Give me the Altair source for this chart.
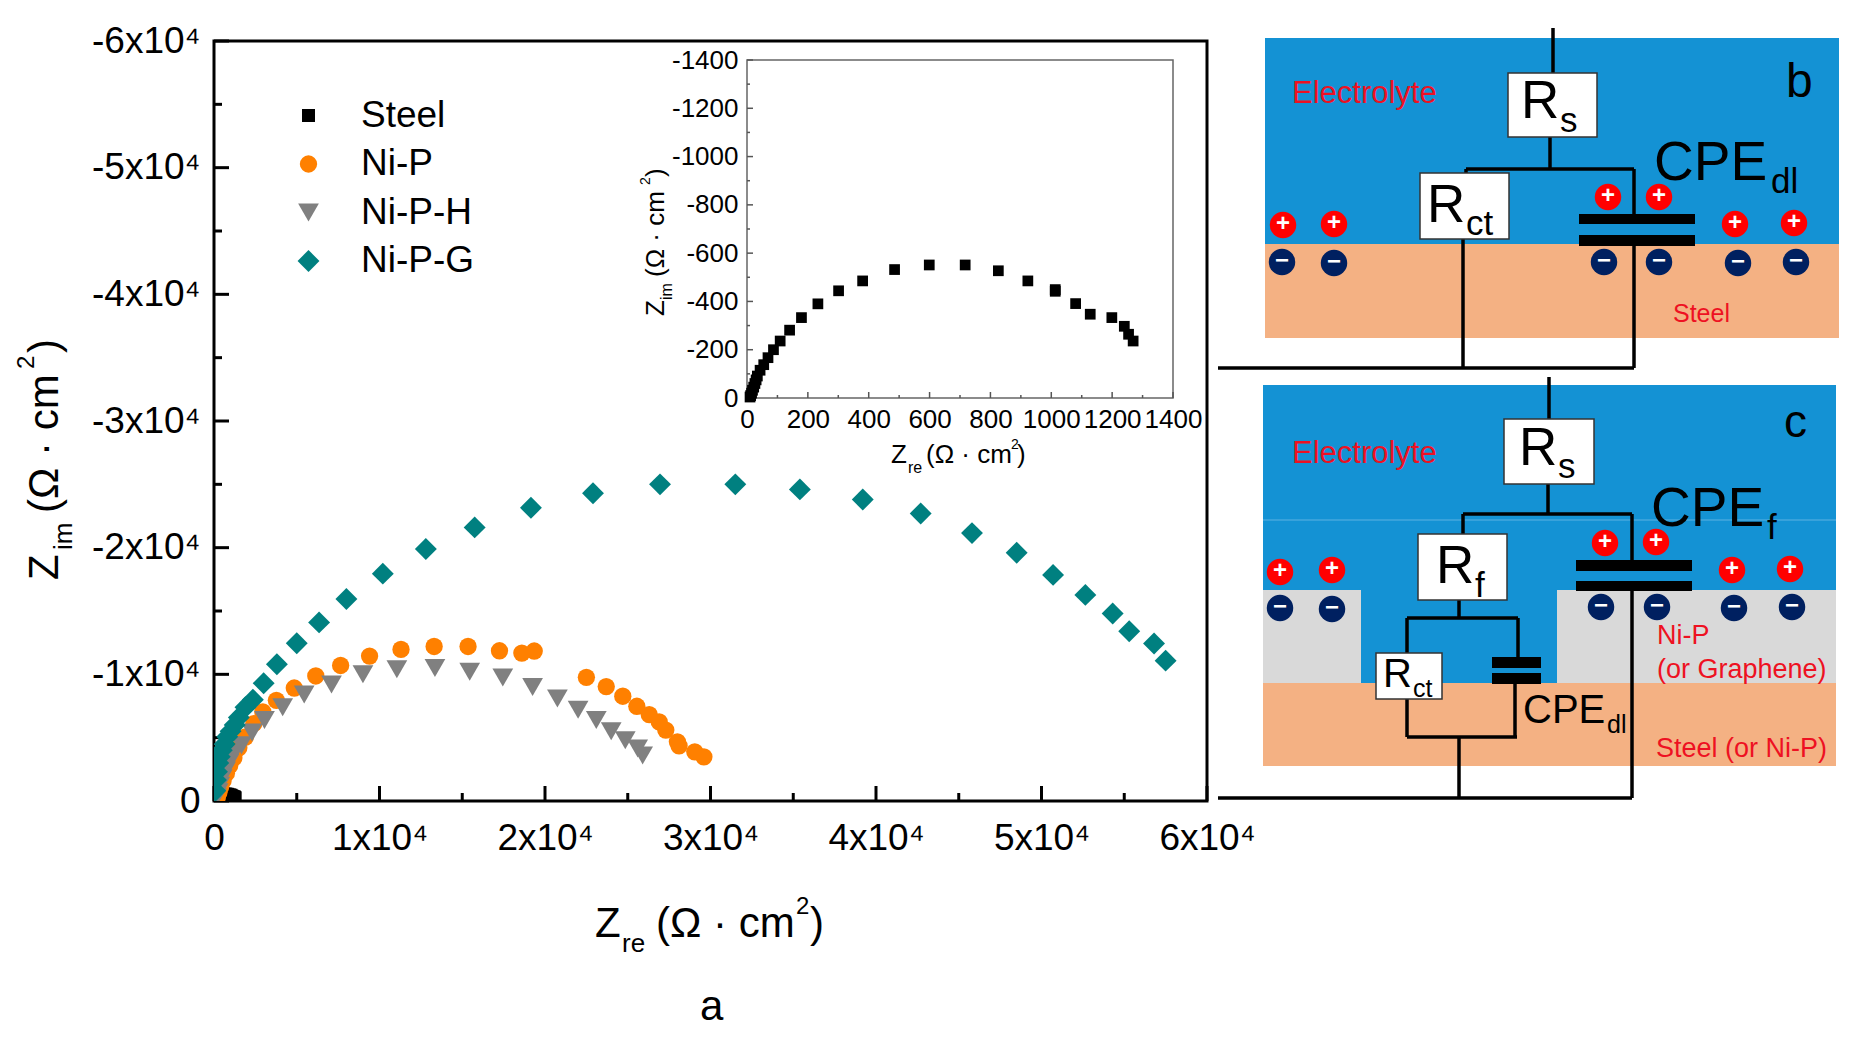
import pandas as pd
import altair as alt

# -- data, in kilo-ohm.cm2 for the large plot
steel_x = [1269, 1254, 1240, 1199, 1128, 1080, 1013, 1013, 923, 826, 717, 599, 485, 380, 301, 233,
           179, 140, 109, 87, 69, 55, 43, 34, 30, 26, 22, 18, 15, 12, 10]
steel_y = [-236, -264, -297, -333, -347, -391, -442, -449, -485, -527, -551, -551, -532, -485, -444, -390,
           -333, -281, -236, -200, -167, -138, -115, -91, -75, -60, -45, -32, -20, -10, -4]

nip_x = [29.6, 29.05, 28.1, 28.0, 27.3, 26.9, 26.3, 25.55, 24.7, 23.7, 22.5, 19.35, 18.6, 17.25, 15.35,
         13.3, 11.3, 9.4, 7.65, 6.15, 4.85, 3.77, 2.95, 2.4, 1.9, 1.5, 1.2, 0.95, 0.75, 0.55, 0.4, 0.3, 0.2]
nip_y = [-3.49, -3.88, -4.36, -4.67, -5.6, -6.25, -6.82, -7.48, -8.27, -9.03, -9.76, -11.84, -11.68, -11.86, -12.2,
         -12.2, -11.97, -11.44, -10.7, -9.87, -8.92, -7.95, -7.03, -6.1, -5.05, -4.2, -3.4, -2.8, -2.2, -1.6, -1.1, -0.7, -0.3]

niph_x = [25.9, 25.6, 24.85, 24.0, 23.1, 22.0, 20.75, 19.25, 17.45, 15.45, 13.35, 11.05, 9.0, 7.1, 5.45,
          4.15, 3.05, 2.3, 1.66, 1.2, 0.9, 0.7, 0.5, 0.35, 0.25, 0.15]
niph_y = [-3.6, -4.15, -4.8, -5.5, -6.4, -7.2, -8.1, -9.0, -9.75, -10.2, -10.5, -10.4, -10.0, -9.2, -8.4,
          -7.4, -6.4, -5.4, -4.4, -3.75, -3.0, -2.4, -1.8, -1.2, -0.7, -0.3]

nipg_x = [57.5, 56.8, 55.3, 54.3, 52.65, 50.7, 48.5, 45.8, 42.7, 39.2, 35.4, 31.5, 26.95, 22.9, 19.15, 15.75,
          12.8, 10.2, 8.0, 6.35, 5.0, 3.8, 3.0, 2.35, 1.9, 1.5, 1.25, 1.0, 0.8, 0.65, 0.47, 0.35, 0.26, 0.18, 0.12, 0.08]
nipg_y = [-11.08, -12.44, -13.4, -14.8, -16.27, -17.85, -19.6, -21.15, -22.7, -23.8, -24.6, -25.0, -25.0, -24.3, -23.15, -21.6,
          -19.9, -17.95, -15.95, -14.1, -12.45, -10.8, -9.3, -8.0, -7.4, -6.6, -6.0, -5.5, -5.07, -4.5, -4.0, -3.5, -3.0, -2.3, -1.65, -0.8]

series_names = ['Steel', 'Ni-P', 'Ni-P-H', 'Ni-P-G']
series_colors = ['#000000', '#FF8000', '#808080', '#008080']
series_shapes = ['square', 'circle', 'triangle-down', 'diamond']
series_sizes = [170, 300, 430, 480]

main_major = [0, 10000, 20000, 30000, 40000, 50000, 60000]
main_minor = [5000, 15000, 25000, 35000, 45000, 55000]
inset_major = [0, 200, 400, 600, 800, 1000, 1200, 1400]
inset_minor = [100, 300, 500, 700, 900, 1100, 1300]

# -- schematic, in picture units
blue_boxes = [[1265, 38, 1839, 244], [1263, 385, 1836, 683]]
peach_boxes = [[1265, 244, 1839, 338], [1263, 683, 1836, 766]]
grey_boxes = [[1263, 590, 1361, 683], [1557, 590, 1836, 683]]
white_boxes = [[1508, 73, 1597, 137], [1420, 173, 1509, 239], [1504, 419, 1594, 484],
               [1418, 534, 1507, 600], [1376, 653, 1442, 699]]
plates = [[1579, 214, 1695, 224], [1579, 235, 1695, 246], [1576, 560, 1692, 571], [1576, 581, 1692, 591],
          [1492, 657, 1541, 668], [1492, 673, 1541, 684]]
wires = [[1553, 28, 1553, 73], [1550, 137, 1550, 169], [1466, 169, 1634, 169], [1466, 169, 1466, 173],
         [1463, 239, 1463, 368], [1218, 368, 1634, 368], [1634, 169, 1634, 214], [1634, 246, 1634, 368],
         [1549, 377, 1549, 419], [1548, 484, 1548, 514], [1463, 514, 1632, 514], [1463, 514, 1463, 534],
         [1459, 600, 1459, 618], [1407, 618, 1518, 618], [1407, 618, 1407, 653], [1407, 699, 1407, 737],
         [1407, 737, 1517, 737], [1518, 618, 1518, 657], [1515, 684, 1515, 737], [1459, 737, 1459, 798],
         [1218, 798, 1632, 798], [1632, 514, 1632, 560], [1632, 591, 1632, 798]]
seam = [[1263, 520, 1836, 520]]
plus_x = [1283, 1334, 1608, 1659, 1735, 1794, 1280, 1332, 1605, 1656, 1732, 1790]
plus_y = [225, 224, 197, 197, 224, 223, 572, 570, 543, 542, 570, 569]
minus_x = [1282, 1334, 1604, 1659, 1738, 1796, 1280, 1332, 1601, 1657, 1734, 1792]
minus_y = [262, 263, 262, 262, 263, 262, 608, 609, 607, 607, 608, 607]

# text, left, baseline, size
black_text = [
    ['Z', 595, 937, 42], ['re', 622, 952, 26], ['(Ω · cm', 656, 937, 42], ['2', 796, 914, 24], [')', 810, 937, 42],
    ['a', 700, 1020, 42],
    ['Z', 891, 463, 26], ['re', 908, 473, 16], ['(Ω · cm', 926, 463, 26], ['2', 1011, 449, 14], [')', 1017, 463, 26],
    ['R', 1521, 118, 53], ['s', 1560, 132, 35], ['R', 1427, 222, 53], ['ct', 1466, 235, 35],
    ['CPE', 1654, 180, 55], ['dl', 1771, 193, 35], ['b', 1786, 97, 48],
    ['R', 1519, 465, 53], ['s', 1558, 478, 35], ['CPE', 1651, 526, 55], ['f', 1767, 539, 35],
    ['R', 1436, 583, 53], ['f', 1475, 597, 35], ['R', 1383, 687, 40], ['ct', 1413, 697, 25],
    ['CPE', 1523, 723, 40], ['dl', 1607, 733, 25], ['c', 1784, 437, 46],
]
red_text = [
    ['Electrolyte', 1292, 103, 31], ['Steel', 1673, 322, 25], ['Electrolyte', 1292, 463, 31],
    ['Ni-P', 1657, 644, 27], ['(or Graphene)', 1657, 678, 27], ['Steel (or Ni-P)', 1656, 757, 27],
]
rotated_text = [
    ['Z', 58, 580, 42], ['im', 72, 550, 26], ['(Ω · cm', 58, 513, 42], ['2', 34, 369, 24], [')', 58, 353, 42],
    ['Z', 664, 316, 26], ['im', 672, 300, 16], ['(Ω · cm', 664, 277, 26], ['2', 650, 185, 14], [')', 664, 177, 26],
]

W, H = 993, 760
INSET_LEFT, INSET_RIGHT, INSET_TOP, INSET_BOTTOM = 533, 959, 19, 357
FONT = 'Liberation Sans'

rows = []
for name, xs, ys, k in zip(series_names, [steel_x, nip_x, niph_x, nipg_x], [steel_y, nip_y, niph_y, nipg_y], [1, 1000, 1000, 1000]):
    for a, b in zip(xs, ys):
        rows.append({'series': name, 'x': a * k, 'y': b * k})
main_df = pd.DataFrame(rows)
inset_df = pd.DataFrame({'x': steel_x, 'y': steel_y})

main_x = alt.Scale(domain=[0, 60000], range=[0, W])
main_y = alt.Scale(domain=[0, -60000], range=[H, 0])
inset_x = alt.Scale(domain=[0, 1400], range=[INSET_LEFT, INSET_RIGHT])
inset_y = alt.Scale(domain=[0, -1400], range=[INSET_BOTTOM, INSET_TOP])
pic_x = alt.Scale(domain=[0, 1859], range=[-214, 1645])
pic_y = alt.Scale(domain=[0, 1042], range=[-41, 1001])


def x_ticks(values, scale, base, length, color, width):
    return alt.Chart(pd.DataFrame({'v': values})).mark_rule(color=color, strokeWidth=width).encode(
        x=alt.X('v:Q', scale=scale, axis=None),
        y=alt.value(base), y2=alt.value(base - length))


def y_ticks(values, scale, base, length, color, width):
    return alt.Chart(pd.DataFrame({'v': values})).mark_rule(color=color, strokeWidth=width).encode(
        y=alt.Y('v:Q', scale=scale, axis=None),
        x=alt.value(base), x2=alt.value(base + length))


def boxes(data, **style):
    df = pd.DataFrame(data, columns=['x', 'y', 'x2', 'y2'])
    return alt.Chart(df).mark_rect(**style).encode(
        x=alt.X('x:Q', scale=pic_x, axis=None), x2='x2:Q',
        y=alt.Y('y:Q', scale=pic_y, axis=None), y2='y2:Q')


def lines(data, **style):
    df = pd.DataFrame(data, columns=['x', 'y', 'x2', 'y2'])
    return alt.Chart(df).mark_rule(**style).encode(
        x=alt.X('x:Q', scale=pic_x, axis=None), x2='x2:Q',
        y=alt.Y('y:Q', scale=pic_y, axis=None), y2='y2:Q')


def labels(data, color, angle=0):
    df = pd.DataFrame(data, columns=['t', 'x', 'y', 's'])
    return alt.Chart(df).mark_text(font=FONT, color=color, align='left', baseline='alphabetic', angle=angle).encode(
        x=alt.X('x:Q', scale=pic_x, axis=None),
        y=alt.Y('y:Q', scale=pic_y, axis=None),
        text='t:N',
        size=alt.Size('s:Q', scale=None))


main_points = alt.Chart(main_df).mark_point(filled=True, opacity=1, clip=True).encode(
    x=alt.X('x:Q', scale=main_x, title=None, axis=alt.Axis(
        orient='bottom', values=main_major, grid=False, domain=False, ticks=False, labelFont=FONT,
        labelFontSize=37, labelColor='black', labelPadding=19, labelFlush=False, labelOverlap=False,
        labelExpr="datum.value == 0 ? '0' : (datum.value / 10000) + 'x10⁴'")),
    y=alt.Y('y:Q', scale=main_y, title=None, axis=alt.Axis(
        orient='left', values=[-v for v in main_major], grid=False, domain=False, ticks=False, labelFont=FONT,
        labelFontSize=37, labelColor='black', labelPadding=14, labelFlush=False, labelOverlap=False,
        labelExpr="datum.value == 0 ? '0' : (datum.value / 10000) + 'x10⁴'")),
    color=alt.Color('series:N', scale=alt.Scale(domain=series_names, range=series_colors), legend=alt.Legend(
        orient='none', legendX=76, legendY=56, title=None, labelFont=FONT, labelFontSize=37, labelColor='black',
        labelOffset=34, symbolOpacity=1, rowPadding=10.5, symbolStrokeWidth=0)),
    shape=alt.Shape('series:N', scale=alt.Scale(domain=series_names, range=series_shapes)),
    size=alt.Size('series:N', scale=alt.Scale(type='ordinal', domain=series_names, range=series_sizes), legend=None),
)

inset_points = alt.Chart(inset_df).mark_point(filled=True, opacity=1, shape='square', color='black', size=115).encode(
    x=alt.X('x:Q', scale=inset_x, title=None, axis=alt.Axis(
        orient='bottom', offset=INSET_BOTTOM - H, values=inset_major, grid=False, domain=False, ticks=False,
        labelExpr="datum.value + ''", labelFlush=False,
        labelFont=FONT, labelFontSize=26, labelColor='black', labelPadding=8, labelOverlap=False)),
    y=alt.Y('y:Q', scale=inset_y, title=None, axis=alt.Axis(
        orient='left', offset=-INSET_LEFT, values=[-v for v in inset_major], grid=False, domain=False, ticks=False,
        labelExpr="datum.value + ''", labelFlush=False,
        labelFont=FONT, labelFontSize=26, labelColor='black', labelPadding=9, labelOverlap=False)))

inset_frame = alt.Chart(pd.DataFrame({'a': [0]})).mark_rect(fill='white', stroke='#666666', strokeWidth=1.5).encode(
    x=alt.value(INSET_LEFT), x2=alt.value(INSET_RIGHT), y=alt.value(INSET_TOP), y2=alt.value(INSET_BOTTOM))


def charges(xs, ys, fill, glyph):
    df = pd.DataFrame({'x': xs, 'y': ys, 't': glyph})
    base = alt.Chart(df).encode(x=alt.X('x:Q', scale=pic_x, axis=None), y=alt.Y('y:Q', scale=pic_y, axis=None))
    return [base.mark_circle(color=fill, opacity=1, size=700),
            base.mark_text(font=FONT, fontWeight='bold', fontSize=24, color='white', baseline='middle', dy=-1).encode(text='t:N')]


layers = [
    boxes(blue_boxes, color='#1492D4'),
    boxes(peach_boxes, color='#F4B183'),
    boxes(grey_boxes, color='#D9D9D9'),
    lines(seam, color='#5DB2E2', strokeWidth=1),
    lines(wires, color='black', strokeWidth=3.5),
    boxes(plates, color='black'),
    boxes(white_boxes, color='white', stroke='#333333', strokeWidth=1.5),
    *charges(plus_x, plus_y, '#FF0000', '+'),
    *charges(minus_x, minus_y, '#002060', '−'),
    x_ticks(main_major, main_x, H, 15, 'black', 3),
    x_ticks(main_minor, main_x, H, 8, 'black', 3),
    y_ticks([-v for v in main_major], main_y, 0, 15, 'black', 3),
    y_ticks([-v for v in main_minor], main_y, 0, 8, 'black', 3),
    main_points,
    inset_frame,
    x_ticks(inset_major, inset_x, INSET_BOTTOM, 6, '#555555', 1.5),
    x_ticks(inset_minor, inset_x, INSET_BOTTOM, 3, '#555555', 1.5),
    y_ticks([-v for v in inset_major], inset_y, INSET_LEFT, 6, '#555555', 1.5),
    y_ticks([-v for v in inset_minor], inset_y, INSET_LEFT, 3, '#555555', 1.5),
    inset_points,
    labels(black_text, 'black'),
    labels(red_text, '#EE1122'),
    labels(rotated_text, 'black', angle=270),
]

chart = alt.layer(*layers).resolve_scale(x='independent', y='independent', size='independent', color='independent', shape='independent').properties(
    width=W, height=H,
    autosize=alt.AutoSizeParams(type='none'),
    padding={'left': 206, 'top': 33, 'right': 644, 'bottom': 233},
).configure_view(stroke='black', strokeWidth=3)

chart.save("out.html", embed_options={"renderer": "svg", "actions": False})
